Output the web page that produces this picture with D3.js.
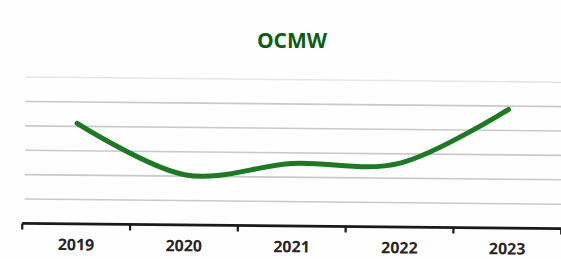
<!DOCTYPE html>
<html lang="nl">
<head>
<meta charset="utf-8">
<title>OCMW</title>
<script src="https://cdnjs.cloudflare.com/ajax/libs/d3/7.8.5/d3.min.js"></script>
<style>
  body { margin: 0; background: #ffffff; }
  svg { display: block; }
</style>
</head>
<body>
<div id="chart"></div>
<script>
// values, in gridline units
var years = ["2019", "2020", "2021", "2022", "2023"];
var values = [4.12, 2.06, 2.56, 2.62, 4.86];
var gridValues = [1, 2, 3, 4, 5, 6];
var title = "OCMW";

var width = 561, height = 259;
var margin = { top: 0, right: 0, bottom: 33, left: 23 };

var svg = d3.select("#chart").append("svg")
    .attr("width", width)
    .attr("height", height);

svg.append("rect")
    .attr("width", width)
    .attr("height", height)
    .attr("fill", "#fefefe");

svg.append("text")
    .attr("x", 292)
    .attr("y", 48)
    .attr("text-anchor", "middle")
    .attr("fill", "#0b5e12")
    .style("font-family", "'Open Sans', sans-serif")
    .style("font-weight", 700)
    .style("font-size", "21px")
    .text(title);

var x = d3.scaleBand()
    .domain(years)
    .range([margin.left, width + 1])
    .padding(0);

var y = d3.scaleLinear()
    .domain([0, 6])
    .range([height - margin.bottom, 79.6]);

// the scan is a little crooked, so tilt the plot the same way
var plot = svg.append("g")
    .attr("transform", "rotate(0.55, 292, 150)");

plot.selectAll(".grid")
    .data(gridValues)
    .enter().append("line")
    .attr("class", "grid")
    .attr("x1", margin.left + 2)
    .attr("x2", width + 10)
    .attr("y1", function (d) { return y(d); })
    .attr("y2", function (d) { return y(d); })
    .attr("stroke", function (d) { return d == 6 ? "#e6e6e6" : "#c9c9c9"; })
    .attr("stroke-width", 1.6);

var xAxis = plot.append("g")
    .attr("transform", "translate(0," + y(0) + ")")
    .call(d3.axisBottom(x).tickSize(0).tickPadding(15));

xAxis.select(".domain")
    .attr("d", "M" + margin.left + ",0H" + (width + 10))
    .attr("stroke", "#1a1a1a")
    .attr("stroke-width", 2.6);

xAxis.selectAll(".tick text")
    .attr("fill", "#262626")
    .style("font-family", "'Open Sans', sans-serif")
    .style("font-weight", 700)
    .style("font-size", "16px");

// tick marks sit on the category boundaries
var bounds = years.map(function (d) { return x(d); }).concat([x(years[years.length - 1]) + x.bandwidth()]);
xAxis.selectAll(".edge")
    .data(bounds)
    .enter().append("line")
    .attr("class", "edge")
    .attr("x1", function (d) { return d; })
    .attr("x2", function (d) { return d; })
    .attr("y1", 0)
    .attr("y2", 6)
    .attr("stroke", "#1a1a1a")
    .attr("stroke-width", 2.2);

var line = d3.line()
    .x(function (d, i) { return x(years[i]) + x.bandwidth() / 2; })
    .y(function (d) { return y(d); })
    .curve(d3.curveCardinal.tension(0));

plot.append("path")
    .datum(values)
    .attr("d", line)
    .attr("fill", "none")
    .attr("stroke", "#1c7a22")
    .attr("stroke-width", 5)
    .attr("stroke-linecap", "round");
</script>
</body>
</html>
